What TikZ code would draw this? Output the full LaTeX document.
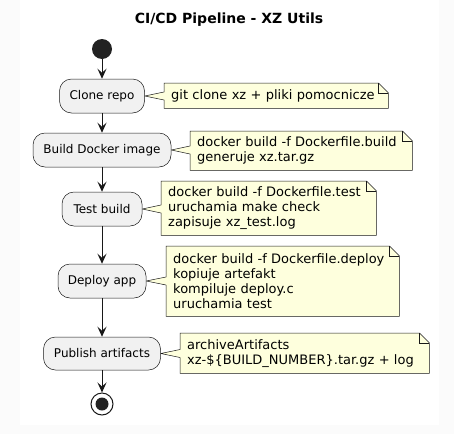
\documentclass[tikz,border=0pt]{standalone}
\usepackage{fontspec}
\setmainfont{DejaVu Sans}
\usetikzlibrary{arrows.meta,calc}
\pgfdeclarelayer{bgzero}
\pgfdeclarelayer{notelayer}
\pgfsetlayers{bgzero,notelayer,main}
\definecolor{actfill}{HTML}{F1F1F1}
\definecolor{linec}{HTML}{181818}
\definecolor{notefill}{HTML}{FEFFDD}
\definecolor{startc}{HTML}{222222}
\definecolor{outerbg}{HTML}{FBFBFB}
\tikzset{
  act/.style={draw=linec, fill=actfill, line width=0.5pt, rounded corners=12pt,
    minimum height=34pt, inner sep=0pt, font=\fontsize{12}{14}\selectfont},
  notebox/.style={anchor=north west, inner xsep=7pt, inner ysep=0pt, align=left,
    font=\fontsize{13}{15.2}\selectfont},
  noteline/.style={draw=linec, fill=notefill, line width=0.5pt, line join=miter},
  flow/.style={draw=linec, line width=1pt, -{Stealth[length=10pt,width=9pt,inset=4pt]}},
}
\newcommand{\notepath}[2]{% #1 note name, #2 activity name
  \path[noteline] (#1.north west) -- ([xshift=-10pt]#1.north east) -- ([yshift=-10pt]#1.north east)
    -- (#1.south east) -- (#1.south west) -- ([yshift=-4pt]#1.west |- #2.east) -- (#2.east)
    -- ([yshift=4pt]#1.west |- #2.east) -- cycle;
  \draw[draw=linec, line width=0.5pt] ([xshift=-10pt]#1.north east) -- ([xshift=-10pt,yshift=-10pt]#1.north east) -- ([yshift=-10pt]#1.north east);
}
\begin{document}
\begin{tikzpicture}[x=1pt,y=-1pt]
\useasboundingbox (0,0) rectangle (454,434);
\begin{pgfonlayer}{bgzero}
\fill[outerbg] (0,0) rectangle (454,434);
\fill[white] (20,0) rectangle (439,425);
\end{pgfonlayer}

\node[font=\fontsize{14}{16}\selectfont\bfseries] (title) at (229,20) {CI/CD Pipeline - XZ Utils};

\node[circle, fill=startc, minimum size=20pt, inner sep=0pt] (start) at (102,49) {};

\node[act, minimum width=85pt] (a1) at (102,96) {Clone repo};
\node[act, minimum width=138pt] (a2) at (102,150) {Build Docker image};
\node[act, minimum width=80pt] (a3) at (102,209) {Test build};
\node[act, minimum width=88pt] (a4) at (102,281) {Deploy app};
\node[act, minimum width=117pt, minimum height=33pt] (a5) at (102,353.5) {Publish artifacts};

\node[circle, draw=linec, line width=1pt, fill=white, minimum size=22pt, inner sep=0pt] (stop) at (102,404) {};
\node[circle, fill=startc, minimum size=13pt, inner sep=0pt] (stopdot) at (stop.center) {};

% notes
\node[notebox, text width=210pt, minimum height=25pt] (n1) at (164,83) {git clone xz + pliki pomocnicze};
\node[notebox, text width=208pt, minimum height=39pt] (n2) at (190,131) {docker build -f Dockerfile.build\\generuje xz.tar.gz};
\node[notebox, text width=201pt, minimum height=54pt] (n3) at (161,181) {docker build -f Dockerfile.test\\uruchamia make check\\zapisuje xz\_test.log};
\node[notebox, text width=219pt, minimum height=70pt] (n4) at (166,246) {docker build -f Dockerfile.deploy\\kopiuje artefakt\\kompiluje deploy.c\\uruchamia test};
\node[notebox, text width=235pt, minimum height=40pt] (n5) at (180,333) {archiveArtifacts\\xz-\$\{BUILD\_NUMBER\}.tar.gz + log};

\begin{pgfonlayer}{notelayer}
\notepath{n1}{a1}
\notepath{n2}{a2}
\notepath{n3}{a3}
\notepath{n4}{a4}
\notepath{n5}{a5}
\end{pgfonlayer}

\draw[flow] (start) -- (a1);
\draw[flow] (a1) -- (a2);
\draw[flow] (a2) -- (a3);
\draw[flow] (a3) -- (a4);
\draw[flow] (a4) -- (a5);
\draw[flow] (a5) -- (stop);
\end{tikzpicture}
\end{document}
